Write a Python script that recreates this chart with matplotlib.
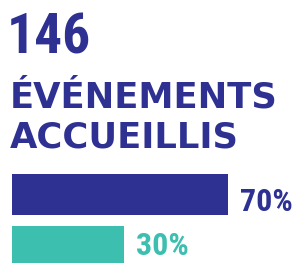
import matplotlib
matplotlib.use("Agg")
import matplotlib.pyplot as plt

# ---- data ----
headline_number = "146"
headline_lines = ["ÉVÉNEMENTS", "ACCUEILLIS"]
categories = ["A", "B"]
values = [70, 30]
value_labels = ["70%", "30%"]

# ---- style ----
DARK = "#2E3192"
TEAL = "#3DBFB0"
bar_colors = [DARK, TEAL]
label_dy = [0.317, 0.165]
WORD_FONT = ["DejaVu Sans"]
NUM_FONT = ["Roboto Condensed", "Noto Sans"]

W, H = 295, 263
fig = plt.figure(figsize=(W / 100, H / 100), dpi=100)
fig.patch.set_facecolor("white")

def fx(px):
    return px / W

def fy(py):
    return 1 - py / H

fig.text(fx(7), fy(54), headline_number, family=NUM_FONT, weight="bold",
         fontsize=40, color=DARK, va="baseline", ha="left")
fig.text(fx(10), fy(108), headline_lines[0], family=WORD_FONT, weight="bold",
         fontsize=25.5, color=DARK, va="baseline", ha="left")
fig.text(fx(10), fy(147), headline_lines[1], family=WORD_FONT, weight="bold",
         fontsize=25.5, color=DARK, va="baseline", ha="left")

ax = fig.add_axes([0, 0, 1, 1])
ax.set_axis_off()
bar_start = -13.1
ypos = list(range(len(categories)))
ax.barh(ypos, [v - bar_start for v in values], left=bar_start, height=0.79,
        color=bar_colors)
ax.set_xlim(-17.9, 95.6)
ax.set_ylim(1.317, -3.74)

for y, v, lab, c, dy in zip(ypos, values, value_labels, bar_colors, label_dy):
    ax.text(v + 4.6, y + dy, lab, family=NUM_FONT, weight="bold", fontsize=23,
            color=c, va="baseline", ha="left")

fig.savefig("out.png", dpi=100)
